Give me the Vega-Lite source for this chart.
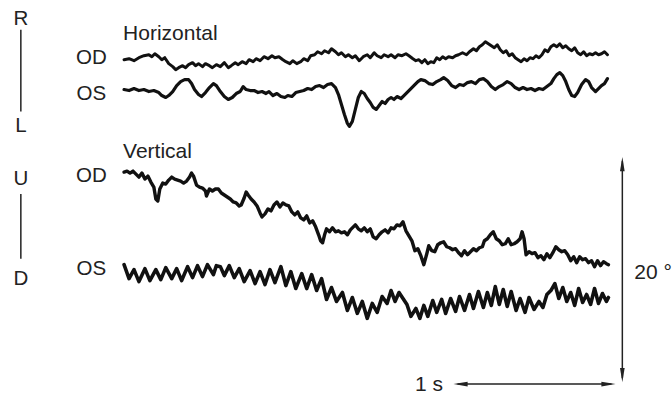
{
  "$schema": "https://vega.github.io/schema/vega-lite/v6.json",
  "width": 672,
  "height": 395,
  "autosize": {"type": "fit", "contains": "padding"},
  "padding": 0,
  "background": "white",
  "config": {"view": {"stroke": null}},
  "datasets": {
    "traces": [
      {"trace":"H-OD","x":125,"y":60},{"trace":"H-OD","x":130,"y":59},{"trace":"H-OD","x":135,"y":61},{"trace":"H-OD","x":140,"y":58},{"trace":"H-OD","x":145,"y":56},{"trace":"H-OD","x":150,"y":55},{"trace":"H-OD","x":153,"y":57},{"trace":"H-OD","x":156,"y":54},{"trace":"H-OD","x":160,"y":57},{"trace":"H-OD","x":163,"y":60},{"trace":"H-OD","x":166,"y":58},{"trace":"H-OD","x":170,"y":64},{"trace":"H-OD","x":174,"y":67},{"trace":"H-OD","x":177,"y":70},{"trace":"H-OD","x":180,"y":68},{"trace":"H-OD","x":184,"y":66},{"trace":"H-OD","x":187,"y":68},{"trace":"H-OD","x":190,"y":65},{"trace":"H-OD","x":194,"y":63},{"trace":"H-OD","x":197,"y":66},{"trace":"H-OD","x":200,"y":64},{"trace":"H-OD","x":204,"y":67},{"trace":"H-OD","x":207,"y":64},{"trace":"H-OD","x":211,"y":66},{"trace":"H-OD","x":214,"y":68},{"trace":"H-OD","x":218,"y":65},{"trace":"H-OD","x":222,"y":67},{"trace":"H-OD","x":226,"y":63},{"trace":"H-OD","x":230,"y":68},{"trace":"H-OD","x":233,"y":66},{"trace":"H-OD","x":237,"y":63},{"trace":"H-OD","x":240,"y":65},{"trace":"H-OD","x":244,"y":62},{"trace":"H-OD","x":248,"y":64},{"trace":"H-OD","x":251,"y":60},{"trace":"H-OD","x":255,"y":62},{"trace":"H-OD","x":258,"y":59},{"trace":"H-OD","x":262,"y":61},{"trace":"H-OD","x":266,"y":57},{"trace":"H-OD","x":270,"y":59},{"trace":"H-OD","x":274,"y":56},{"trace":"H-OD","x":277,"y":58},{"trace":"H-OD","x":281,"y":57},{"trace":"H-OD","x":285,"y":60},{"trace":"H-OD","x":288,"y":62},{"trace":"H-OD","x":292,"y":64},{"trace":"H-OD","x":295,"y":61},{"trace":"H-OD","x":299,"y":64},{"trace":"H-OD","x":303,"y":62},{"trace":"H-OD","x":306,"y":59},{"trace":"H-OD","x":310,"y":61},{"trace":"H-OD","x":313,"y":56},{"trace":"H-OD","x":317,"y":55},{"trace":"H-OD","x":320,"y":52},{"trace":"H-OD","x":324,"y":54},{"trace":"H-OD","x":327,"y":51},{"trace":"H-OD","x":331,"y":53},{"trace":"H-OD","x":334,"y":49},{"trace":"H-OD","x":338,"y":52},{"trace":"H-OD","x":341,"y":55},{"trace":"H-OD","x":344,"y":53},{"trace":"H-OD","x":348,"y":57},{"trace":"H-OD","x":351,"y":55},{"trace":"H-OD","x":355,"y":58},{"trace":"H-OD","x":358,"y":56},{"trace":"H-OD","x":362,"y":61},{"trace":"H-OD","x":366,"y":57},{"trace":"H-OD","x":370,"y":55},{"trace":"H-OD","x":373,"y":58},{"trace":"H-OD","x":377,"y":53},{"trace":"H-OD","x":380,"y":56},{"trace":"H-OD","x":384,"y":58},{"trace":"H-OD","x":387,"y":55},{"trace":"H-OD","x":391,"y":57},{"trace":"H-OD","x":394,"y":55},{"trace":"H-OD","x":398,"y":58},{"trace":"H-OD","x":401,"y":55},{"trace":"H-OD","x":405,"y":56},{"trace":"H-OD","x":409,"y":54},{"trace":"H-OD","x":412,"y":56},{"trace":"H-OD","x":416,"y":59},{"trace":"H-OD","x":419,"y":61},{"trace":"H-OD","x":422,"y":60},{"trace":"H-OD","x":425,"y":63},{"trace":"H-OD","x":428,"y":60},{"trace":"H-OD","x":431,"y":64},{"trace":"H-OD","x":434,"y":62},{"trace":"H-OD","x":437,"y":63},{"trace":"H-OD","x":440,"y":58},{"trace":"H-OD","x":443,"y":60},{"trace":"H-OD","x":446,"y":57},{"trace":"H-OD","x":449,"y":59},{"trace":"H-OD","x":452,"y":57},{"trace":"H-OD","x":456,"y":58},{"trace":"H-OD","x":459,"y":56},{"trace":"H-OD","x":462,"y":55},{"trace":"H-OD","x":466,"y":53},{"trace":"H-OD","x":470,"y":55},{"trace":"H-OD","x":473,"y":52},{"trace":"H-OD","x":477,"y":49},{"trace":"H-OD","x":480,"y":51},{"trace":"H-OD","x":483,"y":47},{"trace":"H-OD","x":486,"y":45},{"trace":"H-OD","x":489,"y":42},{"trace":"H-OD","x":492,"y":44},{"trace":"H-OD","x":495,"y":46},{"trace":"H-OD","x":498,"y":48},{"trace":"H-OD","x":501,"y":45},{"trace":"H-OD","x":504,"y":50},{"trace":"H-OD","x":507,"y":53},{"trace":"H-OD","x":510,"y":51},{"trace":"H-OD","x":513,"y":56},{"trace":"H-OD","x":516,"y":54},{"trace":"H-OD","x":519,"y":58},{"trace":"H-OD","x":522,"y":60},{"trace":"H-OD","x":525,"y":62},{"trace":"H-OD","x":528,"y":59},{"trace":"H-OD","x":531,"y":61},{"trace":"H-OD","x":534,"y":58},{"trace":"H-OD","x":537,"y":59},{"trace":"H-OD","x":540,"y":56},{"trace":"H-OD","x":543,"y":58},{"trace":"H-OD","x":546,"y":55},{"trace":"H-OD","x":549,"y":50},{"trace":"H-OD","x":552,"y":52},{"trace":"H-OD","x":555,"y":47},{"trace":"H-OD","x":558,"y":45},{"trace":"H-OD","x":561,"y":47},{"trace":"H-OD","x":564,"y":44},{"trace":"H-OD","x":567,"y":48},{"trace":"H-OD","x":570,"y":46},{"trace":"H-OD","x":573,"y":49},{"trace":"H-OD","x":576,"y":51},{"trace":"H-OD","x":579,"y":48},{"trace":"H-OD","x":582,"y":53},{"trace":"H-OD","x":585,"y":55},{"trace":"H-OD","x":588,"y":52},{"trace":"H-OD","x":591,"y":56},{"trace":"H-OD","x":594,"y":54},{"trace":"H-OD","x":597,"y":55},{"trace":"H-OD","x":600,"y":53},{"trace":"H-OD","x":603,"y":55},{"trace":"H-OD","x":606,"y":54},{"trace":"H-OD","x":609,"y":52},{"trace":"H-OD","x":612,"y":55},

      {"trace":"H-OS","x":125,"y":90},{"trace":"H-OS","x":130,"y":91},{"trace":"H-OS","x":135,"y":89},{"trace":"H-OS","x":140,"y":91},{"trace":"H-OS","x":145,"y":90},{"trace":"H-OS","x":150,"y":92},{"trace":"H-OS","x":155,"y":91},{"trace":"H-OS","x":160,"y":93},{"trace":"H-OS","x":163,"y":96},{"trace":"H-OS","x":167,"y":98},{"trace":"H-OS","x":170,"y":96},{"trace":"H-OS","x":174,"y":92},{"trace":"H-OS","x":178,"y":86},{"trace":"H-OS","x":182,"y":82},{"trace":"H-OS","x":186,"y":80},{"trace":"H-OS","x":190,"y":80},{"trace":"H-OS","x":193,"y":84},{"trace":"H-OS","x":196,"y":90},{"trace":"H-OS","x":200,"y":95},{"trace":"H-OS","x":203,"y":97},{"trace":"H-OS","x":207,"y":93},{"trace":"H-OS","x":211,"y":88},{"trace":"H-OS","x":215,"y":84},{"trace":"H-OS","x":218,"y":86},{"trace":"H-OS","x":222,"y":92},{"trace":"H-OS","x":226,"y":97},{"trace":"H-OS","x":230,"y":100},{"trace":"H-OS","x":234,"y":98},{"trace":"H-OS","x":238,"y":94},{"trace":"H-OS","x":242,"y":92},{"trace":"H-OS","x":245,"y":87},{"trace":"H-OS","x":248,"y":90},{"trace":"H-OS","x":252,"y":91},{"trace":"H-OS","x":256,"y":91},{"trace":"H-OS","x":260,"y":93},{"trace":"H-OS","x":264,"y":92},{"trace":"H-OS","x":268,"y":94},{"trace":"H-OS","x":271,"y":92},{"trace":"H-OS","x":275,"y":96},{"trace":"H-OS","x":279,"y":94},{"trace":"H-OS","x":283,"y":97},{"trace":"H-OS","x":287,"y":98},{"trace":"H-OS","x":290,"y":96},{"trace":"H-OS","x":294,"y":97},{"trace":"H-OS","x":298,"y":93},{"trace":"H-OS","x":302,"y":92},{"trace":"H-OS","x":306,"y":91},{"trace":"H-OS","x":310,"y":89},{"trace":"H-OS","x":314,"y":90},{"trace":"H-OS","x":318,"y":87},{"trace":"H-OS","x":322,"y":86},{"trace":"H-OS","x":326,"y":88},{"trace":"H-OS","x":330,"y":85},{"trace":"H-OS","x":334,"y":84},{"trace":"H-OS","x":338,"y":88},{"trace":"H-OS","x":341,"y":95},{"trace":"H-OS","x":344,"y":105},{"trace":"H-OS","x":347,"y":115},{"trace":"H-OS","x":350,"y":124},{"trace":"H-OS","x":352,"y":127},{"trace":"H-OS","x":355,"y":122},{"trace":"H-OS","x":358,"y":110},{"trace":"H-OS","x":361,"y":98},{"trace":"H-OS","x":364,"y":92},{"trace":"H-OS","x":367,"y":94},{"trace":"H-OS","x":370,"y":99},{"trace":"H-OS","x":373,"y":103},{"trace":"H-OS","x":376,"y":108},{"trace":"H-OS","x":379,"y":110},{"trace":"H-OS","x":382,"y":106},{"trace":"H-OS","x":385,"y":102},{"trace":"H-OS","x":388,"y":104},{"trace":"H-OS","x":391,"y":100},{"trace":"H-OS","x":394,"y":98},{"trace":"H-OS","x":397,"y":100},{"trace":"H-OS","x":400,"y":97},{"trace":"H-OS","x":404,"y":99},{"trace":"H-OS","x":407,"y":96},{"trace":"H-OS","x":410,"y":93},{"trace":"H-OS","x":413,"y":90},{"trace":"H-OS","x":417,"y":86},{"trace":"H-OS","x":421,"y":82},{"trace":"H-OS","x":424,"y":80},{"trace":"H-OS","x":428,"y":81},{"trace":"H-OS","x":432,"y":84},{"trace":"H-OS","x":436,"y":85},{"trace":"H-OS","x":440,"y":82},{"trace":"H-OS","x":444,"y":80},{"trace":"H-OS","x":447,"y":78},{"trace":"H-OS","x":451,"y":81},{"trace":"H-OS","x":455,"y":86},{"trace":"H-OS","x":459,"y":88},{"trace":"H-OS","x":463,"y":85},{"trace":"H-OS","x":467,"y":86},{"trace":"H-OS","x":471,"y":83},{"trace":"H-OS","x":475,"y":82},{"trace":"H-OS","x":479,"y":84},{"trace":"H-OS","x":483,"y":80},{"trace":"H-OS","x":487,"y":79},{"trace":"H-OS","x":491,"y":82},{"trace":"H-OS","x":495,"y":87},{"trace":"H-OS","x":499,"y":90},{"trace":"H-OS","x":503,"y":87},{"trace":"H-OS","x":507,"y":85},{"trace":"H-OS","x":511,"y":82},{"trace":"H-OS","x":515,"y":84},{"trace":"H-OS","x":519,"y":88},{"trace":"H-OS","x":523,"y":90},{"trace":"H-OS","x":527,"y":88},{"trace":"H-OS","x":531,"y":90},{"trace":"H-OS","x":535,"y":89},{"trace":"H-OS","x":539,"y":91},{"trace":"H-OS","x":543,"y":89},{"trace":"H-OS","x":547,"y":90},{"trace":"H-OS","x":551,"y":87},{"trace":"H-OS","x":555,"y":84},{"trace":"H-OS","x":558,"y":79},{"trace":"H-OS","x":561,"y":75},{"trace":"H-OS","x":564,"y":73},{"trace":"H-OS","x":567,"y":76},{"trace":"H-OS","x":570,"y":82},{"trace":"H-OS","x":573,"y":90},{"trace":"H-OS","x":576,"y":96},{"trace":"H-OS","x":579,"y":97},{"trace":"H-OS","x":582,"y":93},{"trace":"H-OS","x":586,"y":85},{"trace":"H-OS","x":590,"y":80},{"trace":"H-OS","x":593,"y":82},{"trace":"H-OS","x":596,"y":88},{"trace":"H-OS","x":600,"y":92},{"trace":"H-OS","x":603,"y":89},{"trace":"H-OS","x":606,"y":86},{"trace":"H-OS","x":609,"y":84},{"trace":"H-OS","x":612,"y":79},

      {"trace":"V-OD","x":125,"y":173},{"trace":"V-OD","x":128,"y":172},{"trace":"V-OD","x":131,"y":174},{"trace":"V-OD","x":134,"y":172},{"trace":"V-OD","x":137,"y":175},{"trace":"V-OD","x":140,"y":178},{"trace":"V-OD","x":143,"y":174},{"trace":"V-OD","x":146,"y":180},{"trace":"V-OD","x":149,"y":177},{"trace":"V-OD","x":152,"y":183},{"trace":"V-OD","x":155,"y":188},{"trace":"V-OD","x":157,"y":200},{"trace":"V-OD","x":159,"y":202},{"trace":"V-OD","x":161,"y":190},{"trace":"V-OD","x":164,"y":184},{"trace":"V-OD","x":167,"y":185},{"trace":"V-OD","x":170,"y":181},{"trace":"V-OD","x":173,"y":178},{"trace":"V-OD","x":176,"y":180},{"trace":"V-OD","x":179,"y":181},{"trace":"V-OD","x":182,"y":182},{"trace":"V-OD","x":185,"y":184},{"trace":"V-OD","x":188,"y":182},{"trace":"V-OD","x":191,"y":178},{"trace":"V-OD","x":193,"y":174},{"trace":"V-OD","x":195,"y":177},{"trace":"V-OD","x":198,"y":186},{"trace":"V-OD","x":201,"y":188},{"trace":"V-OD","x":204,"y":189},{"trace":"V-OD","x":207,"y":192},{"trace":"V-OD","x":208,"y":197},{"trace":"V-OD","x":211,"y":190},{"trace":"V-OD","x":214,"y":192},{"trace":"V-OD","x":217,"y":190},{"trace":"V-OD","x":220,"y":190},{"trace":"V-OD","x":223,"y":194},{"trace":"V-OD","x":226,"y":196},{"trace":"V-OD","x":229,"y":198},{"trace":"V-OD","x":232,"y":200},{"trace":"V-OD","x":235,"y":203},{"trace":"V-OD","x":238,"y":204},{"trace":"V-OD","x":241,"y":207},{"trace":"V-OD","x":243,"y":206},{"trace":"V-OD","x":246,"y":199},{"trace":"V-OD","x":248,"y":193},{"trace":"V-OD","x":250,"y":196},{"trace":"V-OD","x":253,"y":200},{"trace":"V-OD","x":256,"y":203},{"trace":"V-OD","x":259,"y":207},{"trace":"V-OD","x":262,"y":214},{"trace":"V-OD","x":264,"y":218},{"trace":"V-OD","x":267,"y":215},{"trace":"V-OD","x":270,"y":210},{"trace":"V-OD","x":273,"y":212},{"trace":"V-OD","x":276,"y":206},{"trace":"V-OD","x":279,"y":203},{"trace":"V-OD","x":282,"y":208},{"trace":"V-OD","x":285,"y":204},{"trace":"V-OD","x":288,"y":206},{"trace":"V-OD","x":291,"y":207},{"trace":"V-OD","x":294,"y":213},{"trace":"V-OD","x":297,"y":216},{"trace":"V-OD","x":300,"y":213},{"trace":"V-OD","x":303,"y":219},{"trace":"V-OD","x":306,"y":221},{"trace":"V-OD","x":309,"y":217},{"trace":"V-OD","x":312,"y":224},{"trace":"V-OD","x":315,"y":222},{"trace":"V-OD","x":318,"y":228},{"trace":"V-OD","x":321,"y":236},{"trace":"V-OD","x":323,"y":242},{"trace":"V-OD","x":325,"y":244},{"trace":"V-OD","x":327,"y":236},{"trace":"V-OD","x":329,"y":230},{"trace":"V-OD","x":332,"y":233},{"trace":"V-OD","x":335,"y":229},{"trace":"V-OD","x":338,"y":233},{"trace":"V-OD","x":341,"y":232},{"trace":"V-OD","x":344,"y":234},{"trace":"V-OD","x":347,"y":233},{"trace":"V-OD","x":350,"y":236},{"trace":"V-OD","x":353,"y":231},{"trace":"V-OD","x":356,"y":228},{"trace":"V-OD","x":358,"y":226},{"trace":"V-OD","x":361,"y":230},{"trace":"V-OD","x":364,"y":232},{"trace":"V-OD","x":367,"y":229},{"trace":"V-OD","x":370,"y":233},{"trace":"V-OD","x":373,"y":230},{"trace":"V-OD","x":376,"y":238},{"trace":"V-OD","x":379,"y":240},{"trace":"V-OD","x":382,"y":236},{"trace":"V-OD","x":385,"y":233},{"trace":"V-OD","x":388,"y":231},{"trace":"V-OD","x":391,"y":234},{"trace":"V-OD","x":394,"y":229},{"trace":"V-OD","x":397,"y":230},{"trace":"V-OD","x":400,"y":226},{"trace":"V-OD","x":403,"y":227},{"trace":"V-OD","x":406,"y":223},{"trace":"V-OD","x":409,"y":232},{"trace":"V-OD","x":412,"y":237},{"trace":"V-OD","x":415,"y":242},{"trace":"V-OD","x":418,"y":252},{"trace":"V-OD","x":421,"y":250},{"trace":"V-OD","x":424,"y":257},{"trace":"V-OD","x":427,"y":266},{"trace":"V-OD","x":430,"y":255},{"trace":"V-OD","x":432,"y":247},{"trace":"V-OD","x":435,"y":252},{"trace":"V-OD","x":438,"y":253},{"trace":"V-OD","x":441,"y":246},{"trace":"V-OD","x":444,"y":244},{"trace":"V-OD","x":447,"y":243},{"trace":"V-OD","x":450,"y":248},{"trace":"V-OD","x":453,"y":249},{"trace":"V-OD","x":456,"y":251},{"trace":"V-OD","x":459,"y":250},{"trace":"V-OD","x":462,"y":254},{"trace":"V-OD","x":465,"y":257},{"trace":"V-OD","x":468,"y":252},{"trace":"V-OD","x":471,"y":256},{"trace":"V-OD","x":474,"y":253},{"trace":"V-OD","x":477,"y":250},{"trace":"V-OD","x":480,"y":252},{"trace":"V-OD","x":483,"y":249},{"trace":"V-OD","x":486,"y":248},{"trace":"V-OD","x":488,"y":242},{"trace":"V-OD","x":491,"y":240},{"trace":"V-OD","x":494,"y":236},{"trace":"V-OD","x":497,"y":233},{"trace":"V-OD","x":500,"y":240},{"trace":"V-OD","x":503,"y":242},{"trace":"V-OD","x":506,"y":246},{"trace":"V-OD","x":509,"y":245},{"trace":"V-OD","x":512,"y":240},{"trace":"V-OD","x":515,"y":246},{"trace":"V-OD","x":518,"y":245},{"trace":"V-OD","x":521,"y":243},{"trace":"V-OD","x":524,"y":240},{"trace":"V-OD","x":526,"y":233},{"trace":"V-OD","x":528,"y":240},{"trace":"V-OD","x":530,"y":256},{"trace":"V-OD","x":533,"y":253},{"trace":"V-OD","x":536,"y":255},{"trace":"V-OD","x":539,"y":254},{"trace":"V-OD","x":542,"y":259},{"trace":"V-OD","x":545,"y":257},{"trace":"V-OD","x":548,"y":261},{"trace":"V-OD","x":551,"y":255},{"trace":"V-OD","x":554,"y":259},{"trace":"V-OD","x":557,"y":254},{"trace":"V-OD","x":560,"y":248},{"trace":"V-OD","x":563,"y":251},{"trace":"V-OD","x":566,"y":253},{"trace":"V-OD","x":569,"y":252},{"trace":"V-OD","x":572,"y":256},{"trace":"V-OD","x":575,"y":262},{"trace":"V-OD","x":578,"y":258},{"trace":"V-OD","x":581,"y":264},{"trace":"V-OD","x":584,"y":258},{"trace":"V-OD","x":587,"y":261},{"trace":"V-OD","x":590,"y":260},{"trace":"V-OD","x":593,"y":264},{"trace":"V-OD","x":596,"y":262},{"trace":"V-OD","x":599,"y":268},{"trace":"V-OD","x":602,"y":262},{"trace":"V-OD","x":605,"y":267},{"trace":"V-OD","x":608,"y":263},{"trace":"V-OD","x":611,"y":265},{"trace":"V-OD","x":613,"y":266},

      {"trace":"V-OS","x":125,"y":266},{"trace":"V-OS","x":130,"y":280},{"trace":"V-OS","x":135,"y":271},{"trace":"V-OS","x":140,"y":283},{"trace":"V-OS","x":146,"y":270},{"trace":"V-OS","x":151,"y":282},{"trace":"V-OS","x":157,"y":271},{"trace":"V-OS","x":162,"y":281},{"trace":"V-OS","x":167,"y":269},{"trace":"V-OS","x":173,"y":280},{"trace":"V-OS","x":178,"y":270},{"trace":"V-OS","x":183,"y":282},{"trace":"V-OS","x":189,"y":268},{"trace":"V-OS","x":194,"y":279},{"trace":"V-OS","x":199,"y":267},{"trace":"V-OS","x":204,"y":278},{"trace":"V-OS","x":209,"y":266},{"trace":"V-OS","x":215,"y":276},{"trace":"V-OS","x":218,"y":267},{"trace":"V-OS","x":222,"y":268},{"trace":"V-OS","x":226,"y":277},{"trace":"V-OS","x":231,"y":267},{"trace":"V-OS","x":236,"y":279},{"trace":"V-OS","x":241,"y":270},{"trace":"V-OS","x":246,"y":283},{"trace":"V-OS","x":252,"y":272},{"trace":"V-OS","x":257,"y":285},{"trace":"V-OS","x":262,"y":273},{"trace":"V-OS","x":267,"y":286},{"trace":"V-OS","x":272,"y":271},{"trace":"V-OS","x":277,"y":284},{"trace":"V-OS","x":283,"y":268},{"trace":"V-OS","x":288,"y":287},{"trace":"V-OS","x":293,"y":273},{"trace":"V-OS","x":298,"y":290},{"trace":"V-OS","x":304,"y":275},{"trace":"V-OS","x":309,"y":290},{"trace":"V-OS","x":314,"y":276},{"trace":"V-OS","x":319,"y":292},{"trace":"V-OS","x":324,"y":280},{"trace":"V-OS","x":329,"y":301},{"trace":"V-OS","x":334,"y":289},{"trace":"V-OS","x":339,"y":303},{"trace":"V-OS","x":345,"y":294},{"trace":"V-OS","x":350,"y":312},{"trace":"V-OS","x":355,"y":299},{"trace":"V-OS","x":360,"y":315},{"trace":"V-OS","x":365,"y":303},{"trace":"V-OS","x":370,"y":320},{"trace":"V-OS","x":375,"y":305},{"trace":"V-OS","x":380,"y":314},{"trace":"V-OS","x":385,"y":298},{"trace":"V-OS","x":390,"y":305},{"trace":"V-OS","x":394,"y":292},{"trace":"V-OS","x":398,"y":303},{"trace":"V-OS","x":402,"y":294},{"trace":"V-OS","x":406,"y":300},{"trace":"V-OS","x":410,"y":306},{"trace":"V-OS","x":414,"y":318},{"trace":"V-OS","x":419,"y":310},{"trace":"V-OS","x":423,"y":320},{"trace":"V-OS","x":427,"y":307},{"trace":"V-OS","x":431,"y":318},{"trace":"V-OS","x":436,"y":302},{"trace":"V-OS","x":440,"y":314},{"trace":"V-OS","x":445,"y":301},{"trace":"V-OS","x":449,"y":315},{"trace":"V-OS","x":454,"y":300},{"trace":"V-OS","x":459,"y":313},{"trace":"V-OS","x":463,"y":298},{"trace":"V-OS","x":468,"y":312},{"trace":"V-OS","x":473,"y":296},{"trace":"V-OS","x":477,"y":310},{"trace":"V-OS","x":482,"y":293},{"trace":"V-OS","x":487,"y":309},{"trace":"V-OS","x":491,"y":294},{"trace":"V-OS","x":495,"y":307},{"trace":"V-OS","x":499,"y":288},{"trace":"V-OS","x":503,"y":306},{"trace":"V-OS","x":507,"y":291},{"trace":"V-OS","x":511,"y":308},{"trace":"V-OS","x":515,"y":293},{"trace":"V-OS","x":520,"y":312},{"trace":"V-OS","x":524,"y":300},{"trace":"V-OS","x":529,"y":314},{"trace":"V-OS","x":533,"y":299},{"trace":"V-OS","x":538,"y":311},{"trace":"V-OS","x":543,"y":303},{"trace":"V-OS","x":547,"y":309},{"trace":"V-OS","x":551,"y":296},{"trace":"V-OS","x":555,"y":292},{"trace":"V-OS","x":559,"y":285},{"trace":"V-OS","x":563,"y":300},{"trace":"V-OS","x":567,"y":289},{"trace":"V-OS","x":571,"y":303},{"trace":"V-OS","x":575,"y":294},{"trace":"V-OS","x":579,"y":307},{"trace":"V-OS","x":583,"y":290},{"trace":"V-OS","x":587,"y":304},{"trace":"V-OS","x":591,"y":296},{"trace":"V-OS","x":595,"y":306},{"trace":"V-OS","x":599,"y":290},{"trace":"V-OS","x":603,"y":305},{"trace":"V-OS","x":607,"y":295},{"trace":"V-OS","x":611,"y":303},{"trace":"V-OS","x":613,"y":299}
    ],
    "labels": [
      {"text":"R","x":21,"y":19,"anchor":"center"},
      {"text":"L","x":21,"y":127,"anchor":"center"},
      {"text":"U","x":21,"y":180,"anchor":"center"},
      {"text":"D","x":21,"y":280,"anchor":"center"},
      {"text":"OD","x":92,"y":58,"anchor":"center"},
      {"text":"OS","x":92,"y":94,"anchor":"center"},
      {"text":"OD","x":92,"y":177,"anchor":"center"},
      {"text":"OS","x":92,"y":270,"anchor":"center"},
      {"text":"Horizontal","x":124,"y":34,"anchor":"left"},
      {"text":"Vertical","x":124,"y":153,"anchor":"left"},
      {"text":"20 °","x":639,"y":274,"anchor":"left"},
      {"text":"1 s","x":418,"y":387,"anchor":"left"}
    ],
    "rules": [
      {"x":21,"y":30,"x2":21,"y2":112},
      {"x":21,"y":195,"x2":21,"y2":260},
      {"x":627,"y":162,"x2":627,"y2":380},
      {"x":461,"y":386,"x2":616,"y2":386}
    ],
    "heads": [
      {"x":627,"y":165,"dir":"up"},
      {"x":627,"y":377,"dir":"down"},
      {"x":464,"y":386,"dir":"left"},
      {"x":613,"y":386,"dir":"right"}
    ]
  },
  "layer": [
    {
      "data": {"name": "rules"},
      "mark": {"type": "rule", "color": "#222", "strokeWidth": 1.5},
      "encoding": {
        "x": {"field": "x", "type": "quantitative", "scale": {"domain": [0, 672], "nice": false, "zero": false}, "axis": null},
        "y": {"field": "y", "type": "quantitative", "scale": {"domain": [0, 395], "nice": false, "zero": false, "reverse": true}, "axis": null},
        "x2": {"field": "x2"},
        "y2": {"field": "y2"}
      }
    },
    {
      "data": {"name": "heads"},
      "mark": {"type": "point", "filled": true, "color": "#222", "opacity": 1, "size": 200},
      "encoding": {
        "x": {"field": "x", "type": "quantitative", "axis": null},
        "y": {"field": "y", "type": "quantitative", "axis": null},
        "shape": {"field": "dir", "type": "nominal", "legend": null,
          "scale": {"domain": ["up", "down", "left", "right"],
                    "range": ["M0,-1L0.33,1L-0.33,1Z", "M0,1L0.33,-1L-0.33,-1Z", "M-1,0L1,0.33L1,-0.33Z", "M1,0L-1,0.33L-1,-0.33Z"]}}
      }
    },
    {
      "data": {"name": "traces"},
      "mark": {"type": "line", "color": "#111", "strokeJoin": "round", "strokeCap": "round"},
      "encoding": {
        "x": {"field": "x", "type": "quantitative", "axis": null},
        "y": {"field": "y", "type": "quantitative", "axis": null},
        "detail": {"field": "trace", "type": "nominal"},
        "order": {"field": "x", "type": "quantitative"},
        "strokeWidth": {"field": "trace", "type": "nominal", "legend": null,
          "scale": {"domain": ["H-OD", "H-OS", "V-OD", "V-OS"], "range": [3, 3.6, 2.2, 3.2]}}
      }
    },
    {
      "data": {"name": "labels"},
      "transform": [{"filter": "datum.anchor === 'center'"}],
      "mark": {"type": "text", "font": "Liberation Sans", "fontSize": 20.5, "color": "#222", "baseline": "middle", "align": "center"},
      "encoding": {
        "x": {"field": "x", "type": "quantitative", "axis": null},
        "y": {"field": "y", "type": "quantitative", "axis": null},
        "text": {"field": "text"}
      }
    },
    {
      "data": {"name": "labels"},
      "transform": [{"filter": "datum.anchor === 'left'"}],
      "mark": {"type": "text", "font": "Liberation Sans", "fontSize": 21, "color": "#222", "baseline": "middle", "align": "left"},
      "encoding": {
        "x": {"field": "x", "type": "quantitative", "axis": null},
        "y": {"field": "y", "type": "quantitative", "axis": null},
        "text": {"field": "text"}
      }
    }
  ]
}
